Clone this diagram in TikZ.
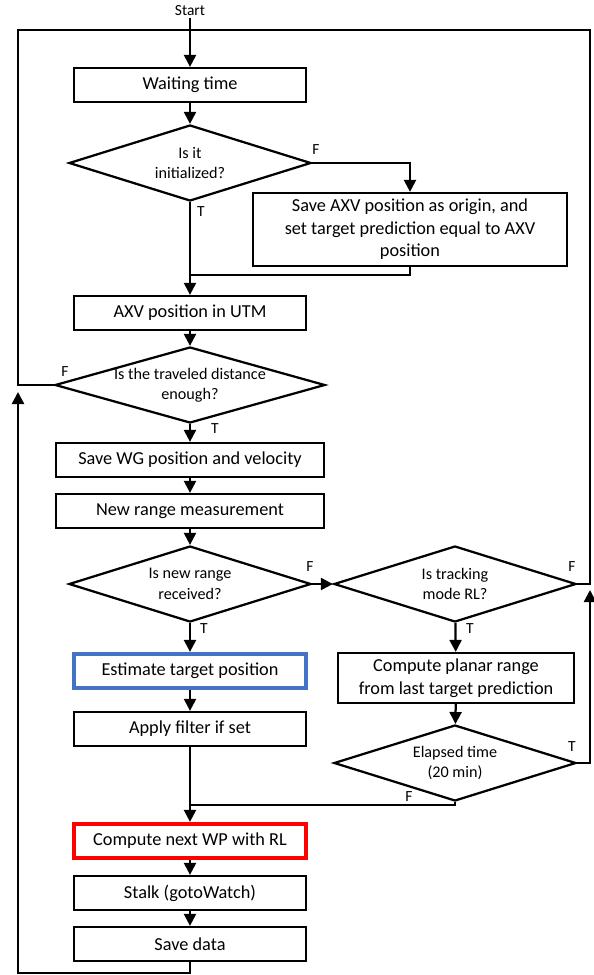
\documentclass[tikz,border=0pt]{standalone}
\usepackage{fontspec}
\setmainfont{Carlito}
\usetikzlibrary{arrows.meta, shapes.geometric}
\definecolor{estblue}{HTML}{4472C4}
\definecolor{rlred}{HTML}{FF0000}
\tikzset{
  block/.style={rectangle, draw=black, line width=1.6pt, fill=white,
    minimum width=5.8cm, minimum height=0.85cm, align=center, inner sep=2pt,
    font=\fontsize{13}{16}\selectfont},
  blockwide/.style={block, minimum width=6.7cm},
  blockBlue/.style={block, draw=estblue, line width=3pt},
  blockRed/.style={block, draw=rlred, line width=3pt},
  decision/.style={diamond, draw=black, line width=1.6pt, fill=white,
    minimum width=6.05cm, minimum height=1.9cm, aspect=3.2,
    inner xsep=0pt, inner ysep=-10pt, align=center,
    font=\fontsize{11.5}{14.5}\selectfont},
  arrow/.style={-{Triangle[length=3mm, width=3mm]}, line width=1.6pt},
  wire/.style={line width=1.6pt},
  tf/.style={font=\fontsize{11}{13}\selectfont, inner sep=0pt},
}
\begin{document}
\begin{tikzpicture}[x=0.025cm, y=-0.025cm]
\useasboundingbox (0,0) rectangle (593,975);
% main column
\node[font=\fontsize{11}{13}\selectfont, inner sep=1pt] (start) at (190,11) {Start};
\node[block] (wait) at (190,85) {Waiting time};
\node[decision] (init) at (190,163) {Is it\\initialized?};
\node[block, minimum width=7.85cm, minimum height=1.825cm] (origin) at (410,229.5) {Save AXV position as origin, and\\set target prediction equal to AXV\\position};
\node[block] (utm) at (190,313) {AXV position in UTM};
\node[decision, minimum width=6.75cm] (dist) at (190,385) {Is the traveled distance\\enough?};
\node[blockwide] (savewg) at (190,460) {Save WG position and velocity};
\node[blockwide] (range) at (190,511) {New range measurement};
\node[decision] (received) at (190,584) {Is new range\\received?};
\node[blockBlue] (estimate) at (190,671) {Estimate target position};
\node[block] (filter) at (190,729) {Apply filter if set};
\node[blockRed] (nextwp) at (190,841) {Compute next WP with RL};
\node[block] (stalk) at (190,893) {Stalk (gotoWatch)};
\node[block] (savedata) at (190,944) {Save data};
% right column
\node[decision] (mode) at (455,584) {Is tracking\\mode RL?};
\node[block, minimum width=5.9cm, minimum height=1.25cm] (planar) at (456,678) {Compute planar range\\from last target prediction};
\node[decision] (elapsed) at (455,763) {Elapsed time\\(20 min)};
% loop corners
\coordinate (topL) at (18,30);
\coordinate (topR) at (590,30);
\coordinate (mergeA) at (190,275);
\coordinate (mergeB) at (190,805);
\coordinate (loopB) at (18,973);
\coordinate (loopTip) at (18,392);
\coordinate (tTip) at (590,590);
% connectors
\draw[arrow] (start) -- (wait);
\draw[arrow] (wait) -- (init);
\draw[arrow] (init.east) -| (origin.north);
\draw[wire] (origin.south) |- (mergeA);
\draw[arrow] (init.south) -- (utm.north);
\draw[arrow] (utm) -- (dist);
\draw[wire] (dist.west) -| (topL) -- (topR) |- (mode.east);
\draw[arrow] (dist) -- (savewg);
\draw[arrow] (savewg) -- (range);
\draw[arrow] (range) -- (received);
\draw[arrow] (received.east) -- (mode.west);
\draw[arrow] (received) -- (estimate);
\draw[arrow] (mode) -- (planar);
\draw[arrow] (planar) -- (elapsed);
\draw[arrow] (estimate) -- (filter);
\draw[arrow] (filter) -- (nextwp);
\draw[wire] (elapsed.south) |- (mergeB);
\draw[arrow] (elapsed.east) -| (tTip);
\draw[arrow] (nextwp) -- (stalk);
\draw[arrow] (stalk) -- (savedata);
\draw[arrow] (savedata.south) |- (loopB) -- (loopTip);
% T/F labels
\node[tf] (initF) at (316,150) {F};
\node[tf] (initT) at (201,212) {T};
\node[tf] (distF) at (65,372) {F};
\node[tf] (distT) at (215,429) {T};
\node[tf] (rcvF) at (310,567) {F};
\node[tf] (rcvT) at (204,629) {T};
\node[tf] (modeF) at (572,567) {F};
\node[tf] (modeT) at (470,629) {T};
\node[tf] (elapT) at (572,747) {T};
\node[tf] (elapF) at (409,797) {F};
\end{tikzpicture}
\end{document}
